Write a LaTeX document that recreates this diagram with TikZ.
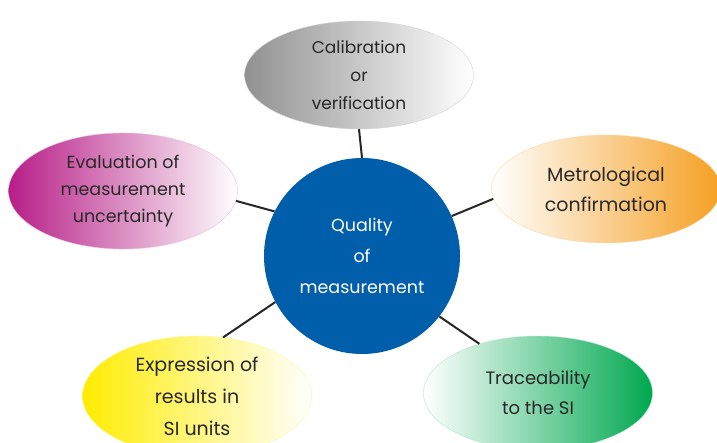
\documentclass[tikz,border=0pt]{standalone}
\usepackage{fontspec}
\setmainfont{Poppins}
\usetikzlibrary{shapes.geometric}
\definecolor{qblue}{RGB}{0,94,170}
\definecolor{txtgray}{RGB}{40,40,40}
\definecolor{calgray}{RGB}{145,145,145}
\definecolor{evalmag}{RGB}{183,30,135}
\definecolor{metorange}{RGB}{245,160,35}
\definecolor{expyellow}{RGB}{255,236,0}
\definecolor{tracegreen}{RGB}{0,168,80}

\begin{document}
\begin{tikzpicture}[
  x=1pt, y=-1pt,
  topic/.style={ellipse, minimum width=229pt, minimum height=108pt, inner sep=0pt,
    align=center, text=txtgray},
  hub/.style={circle, minimum size=196pt, inner sep=0pt, fill=qblue, text=white,
    align=center, font=\fontsize{17.5}{31}\selectfont},
  link/.style={line width=2pt, black!85}
]
\useasboundingbox (0,0) rectangle (717,443);
\node[hub] (qual) at (362,256) {Quality\\of\\measurement};
\node[topic, left color=calgray, right color=white, draw=calgray!40,
  font=\fontsize{17}{28}\selectfont] (calib) at (359,75) {Calibration\\or\\verification};
\node[topic, left color=evalmag, right color=white, draw=evalmag!30,
  font=\fontsize{17.5}{27}\selectfont, minimum height=116pt] (evalu) at (123,191) {Evaluation of\\measurement\\uncertainty};
\node[topic, left color=white, right color=metorange, draw=metorange!40,
  font=\fontsize{19}{30}\selectfont] (metro) at (606,189) {Metrological\\confirmation};
\node[topic, left color=expyellow, right color=white, draw=expyellow!40,
  font=\fontsize{19}{32}\selectfont, minimum height=120pt] (expr) at (197,396) {Expression of\\results in\\SI units};
\node[topic, left color=white, right color=tracegreen, draw=tracegreen!30,
  font=\fontsize{18}{30}\selectfont, minimum height=114pt] (trace) at (538,393) {Traceability\\to the SI};
% spokes
\draw[link] (qual.north) -- (calib.south);
\draw[link] (qual.153) -- (evalu.-5);
\draw[link] (qual.24) -- (metro.185);
\draw[link] (qual.208) -- (expr.66);
\draw[link] (qual.-38) -- (trace.140);
\end{tikzpicture}
\end{document}
